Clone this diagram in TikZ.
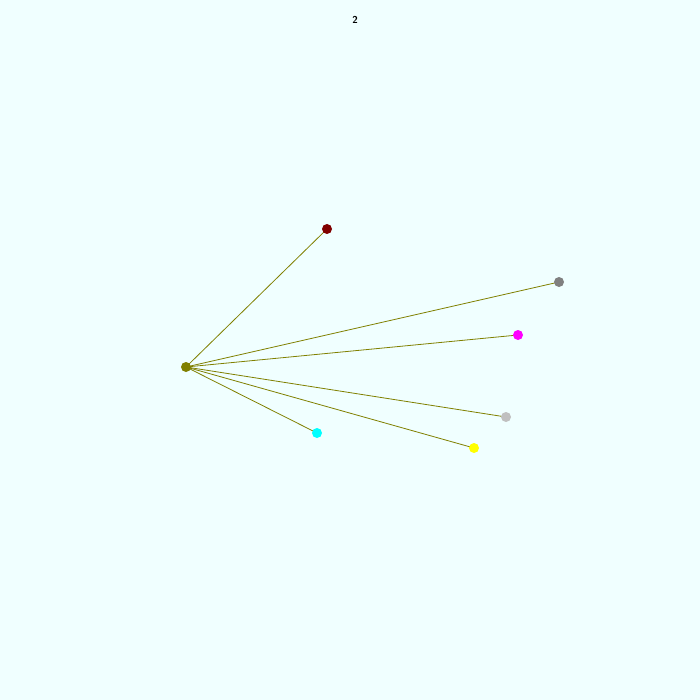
\documentclass[tikz,border=0pt]{standalone}
\definecolor{bgazure}{HTML}{F0FFFF}
\definecolor{olivec}{HTML}{808000}
\definecolor{maroonc}{HTML}{800000}
\definecolor{grayc}{HTML}{808080}
\definecolor{magentac}{HTML}{FF00FF}
\definecolor{silverc}{HTML}{C0C0C0}
\definecolor{yellowc}{HTML}{FFFF00}
\definecolor{cyanc}{HTML}{00FFFF}
\begin{document}
\begin{tikzpicture}[x=1pt,y=-1pt,
  dot/.style={circle,inner sep=0pt,minimum size=10pt,draw=none},
  edge/.style={draw=olivec,line width=0.8pt}]
\useasboundingbox[fill=bgazure] (0,0) rectangle (700,700);
\node[font=\sffamily\bfseries\normalsize] (title) at (355,20) {2};
\node[dot] (o) at (186,367) {};
\node[dot] (m) at (327,229) {};
\node[dot] (g) at (559,282) {};
\node[dot] (p) at (518,335) {};
\node[dot] (s) at (506,417) {};
\node[dot] (y) at (474,448) {};
\node[dot] (c) at (317,433) {};
\foreach \t in {m,g,p,s,y,c} \draw[edge] (o.center) -- (\t.center);
\foreach \t/\col in {o/olivec,m/maroonc,g/grayc,p/magentac,s/silverc,y/yellowc,c/cyanc} \fill[\col] (\t.center) circle (5pt);
\end{tikzpicture}
\end{document}
